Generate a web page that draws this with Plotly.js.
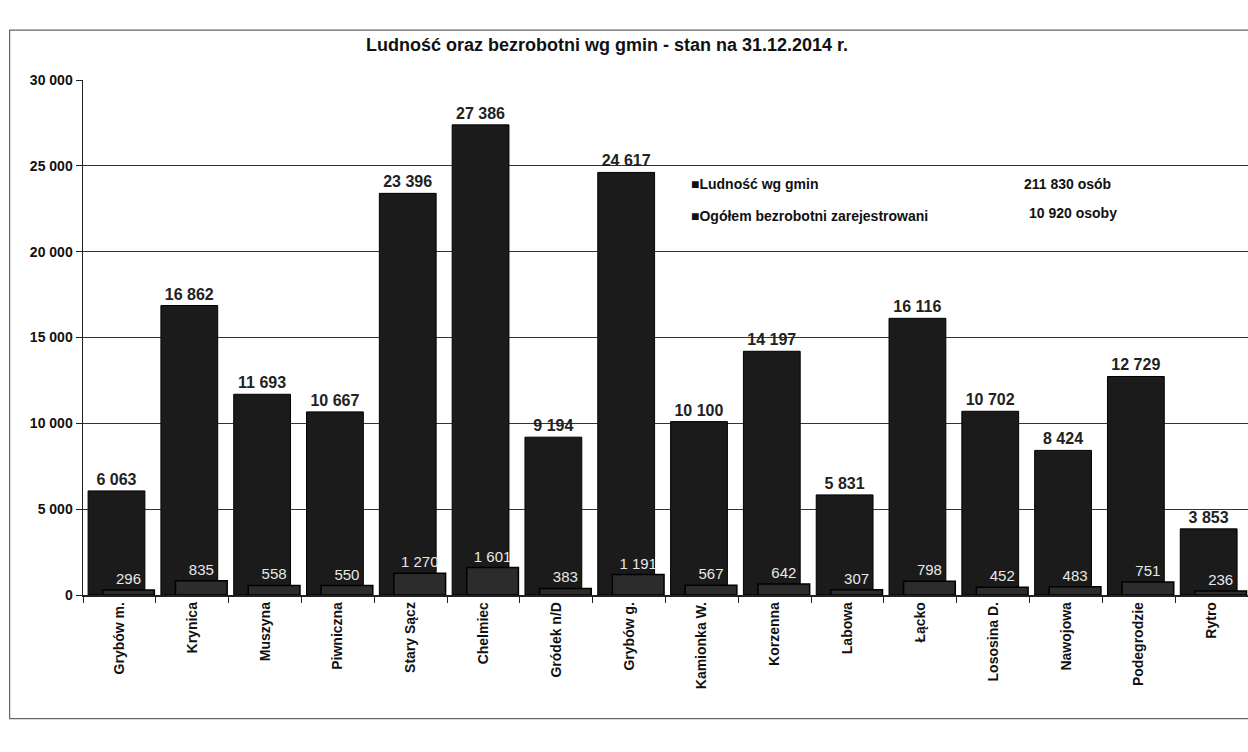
<!DOCTYPE html>
<html>
<head>
<meta charset="utf-8">
<script src="https://cdn.plot.ly/plotly-3.0.1.min.js"></script>
<style>html,body{margin:0;padding:0;background:#fff;}#chart{width:1248px;height:752px;}</style>
</head>
<body>
<div id="chart"></div>
<script>
const categories = ["Grybów m.", "Krynica", "Muszyna", "Piwniczna", "Stary Sącz", "Chelmiec", "Gródek n/D", "Grybów g.", "Kamionka W.", "Korzenna", "Labowa", "Łącko", "Lososina D.", "Nawojowa", "Podegrodzie", "Rytro"];
const population = [6063, 16862, 11693, 10667, 23396, 27386, 9194, 24617, 10100, 14197, 5831, 16116, 10702, 8424, 12729, 3853];
const unemployed = [296, 835, 558, 550, 1270, 1601, 383, 1191, 567, 642, 307, 798, 452, 483, 751, 236];
const seriesNames = ["Ludność wg gmin", "Ogółem bezrobotni zarejestrowani"];
const totals = ["211 830 osób", "10 920 osoby"];
const titleText = "Ludność oraz bezrobotni wg gmin - stan na 31.12.2014 r.";

const FONT = "Liberation Sans, Arial, sans-serif";
const fmt = v => v >= 1000 ? Math.floor(v/1000) + " " + String(v%1000).padStart(3,"0") : String(v);

const traces = [
  {
    type: "bar", name: seriesNames[0], x: categories, y: population,
    width: 0.78, offset: -0.43,
    marker: {color: "#1b1b1b", line: {color: "#000", width: 1}},
    text: population.map(fmt), textposition: "outside",
    textfont: {family: FONT, size: 16, color: "#222", weight: "bold"},
    cliponaxis: false, hoverinfo: "x+y"
  },
  {
    type: "bar", name: seriesNames[1], x: categories, y: unemployed,
    width: 0.71, offset: -0.23,
    marker: {color: "#2c2c2c", line: {color: "#000", width: 1.5}},
    text: unemployed.map(fmt), textposition: "outside",
    textfont: {family: FONT, size: 15, color: "#e8e8e8"},
    cliponaxis: false, hoverinfo: "x+y"
  }
];

const annotations = [
  {text: "<b>" + titleText + "</b>", xref: "paper", yref: "paper", x: 0.45, y: 1.0, yshift: 47, showarrow: false, font: {family: FONT, size: 18, color: "#111"}},
  {text: "<b>■" + seriesNames[0] + "</b>", xref: "paper", yref: "paper", x: 0.52, y: 0.817, xanchor: "left", showarrow: false, font: {family: FONT, size: 14, color: "#111"}},
  {text: "<b>■" + seriesNames[1] + "</b>", xref: "paper", yref: "paper", x: 0.52, y: 0.755, xanchor: "left", showarrow: false, font: {family: FONT, size: 14, color: "#111"}},
  {text: "<b>" + totals[0] + "</b>", xref: "paper", yref: "paper", x: 0.806, y: 0.817, xanchor: "left", showarrow: false, font: {family: FONT, size: 14, color: "#111"}},
  {text: "<b>" + totals[1] + "</b>", xref: "paper", yref: "paper", x: 0.81, y: 0.762, xanchor: "left", showarrow: false, font: {family: FONT, size: 14, color: "#111"}}
];

const layout = {
  width: 1248, height: 752,
  margin: {l: 83, r: 0, t: 80, b: 157},
  paper_bgcolor: "#fff", plot_bgcolor: "#fff",
  barmode: "overlay",
  showlegend: false,
  separators: ", ",
  font: {family: FONT, color: "#111"},
  xaxis: {
    type: "category", tickangle: -90,
    tickfont: {family: FONT, size: 14, color: "#111", weight: "bold"},
    showline: true, linecolor: "#222", linewidth: 1.5,
    ticks: "outside", ticklen: 6, tickcolor: "#222", tickson: "boundaries",
    showgrid: false, range: [-0.5, 15.5]
  },
  yaxis: {
    range: [0, 30000], dtick: 5000, tickformat: ",d",
    tickfont: {family: FONT, size: 14, color: "#111", weight: "bold"},
    showline: true, linecolor: "#222", linewidth: 1.5,
    ticks: "outside", ticklen: 6, tickcolor: "#222",
    showgrid: true, gridcolor: "#333", gridwidth: 1.3, zeroline: false
  },
  annotations: annotations,
  shapes: [
    {type: "rect", xref: "paper", yref: "paper", x0: -0.063, x1: 1.01, y0: -0.24, y1: 1.097, line: {color: "#666", width: 1.2}}
  ]
};

Plotly.newPlot("chart", traces, layout, {displayModeBar: false, staticPlot: true});
</script>
</body>
</html>
